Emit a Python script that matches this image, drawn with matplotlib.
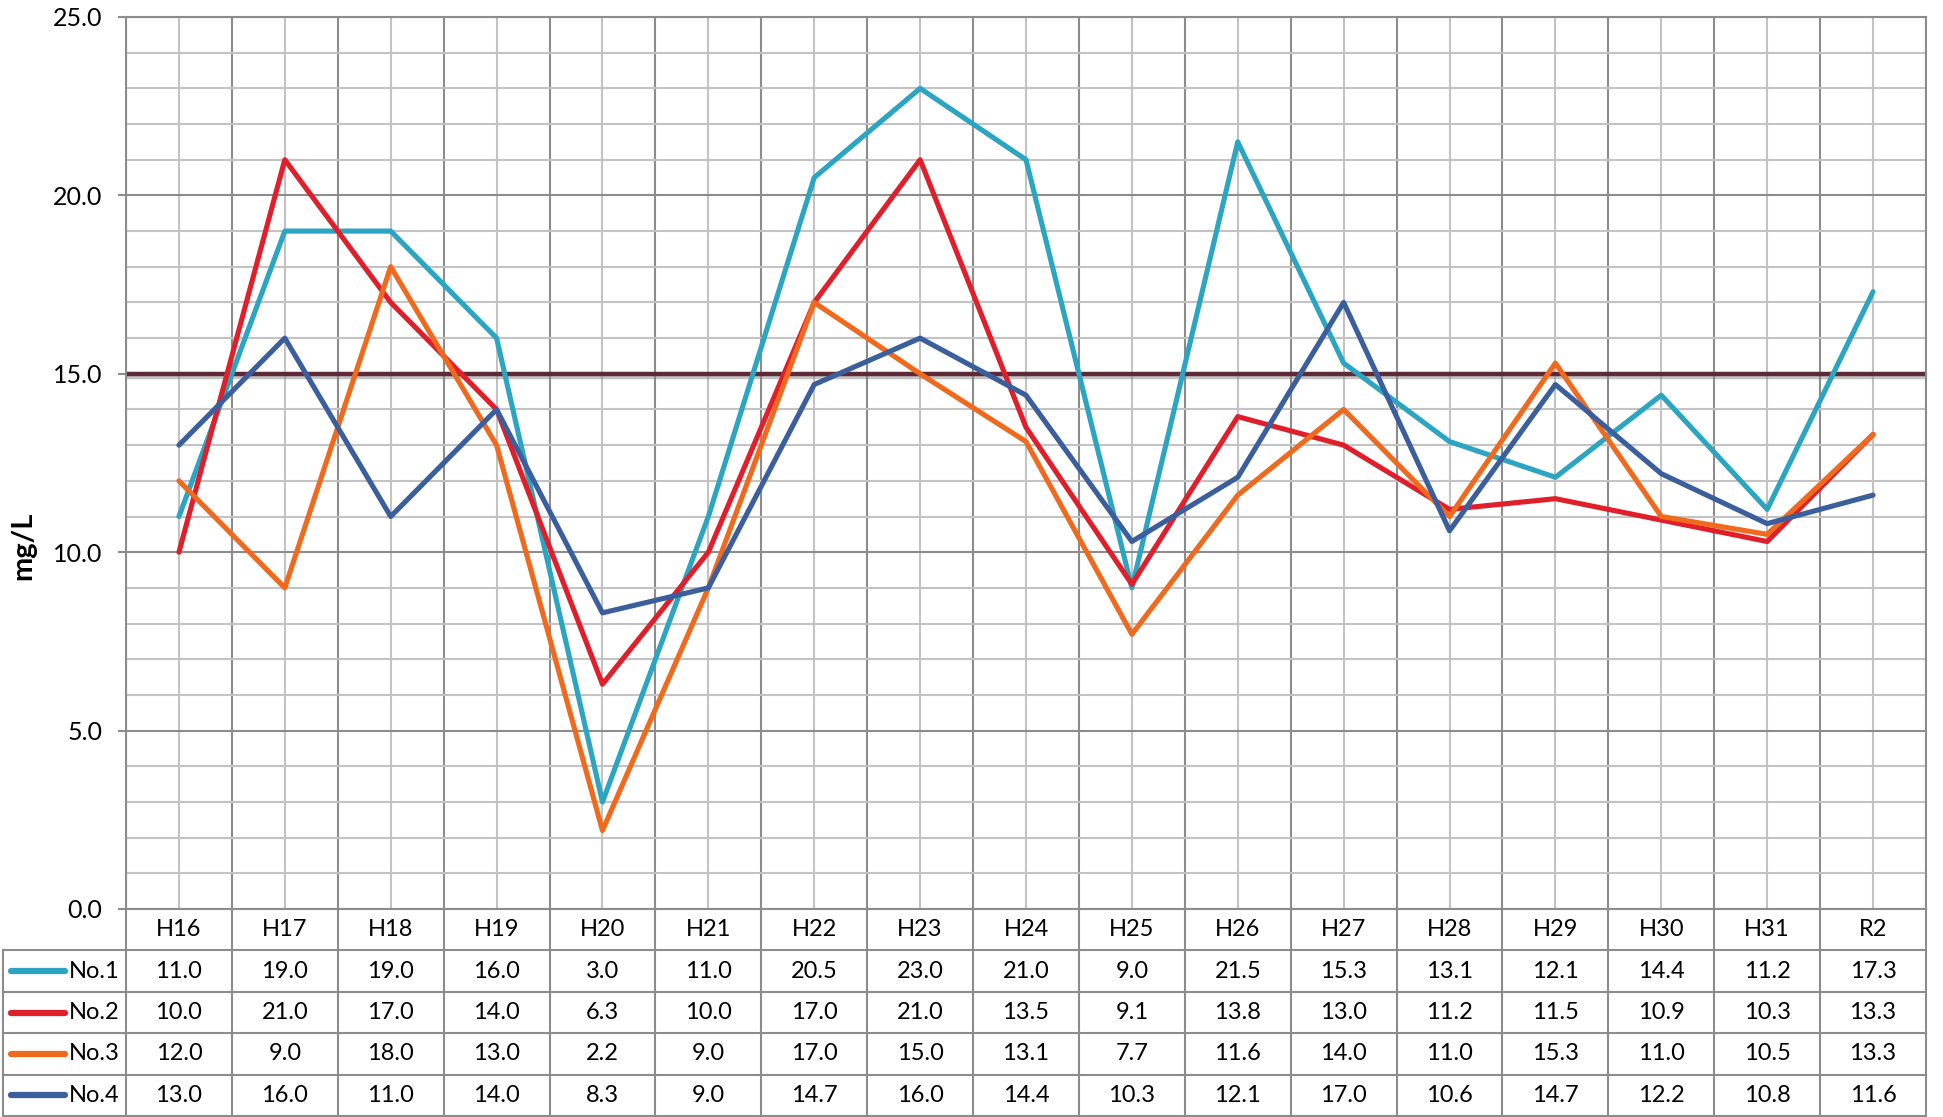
import numpy as np
import matplotlib.pyplot as plt
import matplotlib.patheffects as pe
from matplotlib.ticker import MultipleLocator, FixedLocator

plt.rcParams['font.family'] = ['Lato', 'DejaVu Sans']

# data
years = ['H16', 'H17', 'H18', 'H19', 'H20', 'H21', 'H22', 'H23', 'H24',
         'H25', 'H26', 'H27', 'H28', 'H29', 'H30', 'H31', 'R2']
no1 = [11.0, 19.0, 19.0, 16.0, 3.0, 11.0, 20.5, 23.0, 21.0, 9.0, 21.5, 15.3, 13.1, 12.1, 14.4, 11.2, 17.3]
no2 = [10.0, 21.0, 17.0, 14.0, 6.3, 10.0, 17.0, 21.0, 13.5, 9.1, 13.8, 13.0, 11.2, 11.5, 10.9, 10.3, 13.3]
no3 = [12.0, 9.0, 18.0, 13.0, 2.2, 9.0, 17.0, 15.0, 13.1, 7.7, 11.6, 14.0, 11.0, 15.3, 11.0, 10.5, 13.3]
no4 = [13.0, 16.0, 11.0, 14.0, 8.3, 9.0, 14.7, 16.0, 14.4, 10.3, 12.1, 17.0, 10.6, 14.7, 12.2, 10.8, 11.6]
series_names = ['No.1', 'No.2', 'No.3', 'No.4']
series = [no1, no2, no3, no4]
colors = ['#2ba5c1', '#e01f2b', '#f0691c', '#3b5f9c']
limit_value = 15.0

W, H = 1943, 1117
fig = plt.figure(figsize=(W / 100, H / 100), dpi=100)
fig.patch.set_facecolor('white')

# plot area in pixels
px_left, px_right, px_top, px_bot = 126, 1926, 17, 909
tbl_left, tbl_bot = 3, 1116
ax = fig.add_axes([px_left / W, (H - px_bot) / H, (px_right - px_left) / W, (px_bot - px_top) / H])

n = len(years)
x = np.arange(n)
ax.set_xlim(-0.5, n - 0.5)
ax.set_ylim(0, 25)

major_col = '#8c8c8c'
minor_col = '#c3c3c3'
ax.xaxis.set_major_locator(FixedLocator(np.arange(n + 1) - 0.5))
ax.xaxis.set_minor_locator(FixedLocator(x))
ax.yaxis.set_major_locator(MultipleLocator(5))
ax.yaxis.set_minor_locator(MultipleLocator(1))
ax.grid(which='minor', color=minor_col, lw=1.5, zorder=0)
ax.grid(which='major', color=major_col, lw=1.5, zorder=0)
ax.set_axisbelow(True)
for s in ax.spines.values():
    s.set_color(major_col)
    s.set_linewidth(1.5)
ax.tick_params(axis='x', which='both', length=0, labelbottom=False)
ax.tick_params(axis='y', which='major', length=6, width=1.5, color=major_col, pad=11, labelsize=18)
ax.tick_params(axis='y', which='minor', length=0)
ax.yaxis.set_major_formatter(lambda v, p: f'{v:.1f}')
# y title sits lower than the axes centre, as in the original
fig.text(23 / W, 1 - 546 / H, 'mg/L', rotation=90, ha='center', va='center',
         fontsize=21, fontweight='bold')

# reference line
ax.axhline(limit_value, color='#5e2a38', lw=3.2, zorder=2,
           path_effects=[pe.SimpleLineShadow(offset=(1, -2.5), shadow_color='#888888', alpha=0.5), pe.Normal()])

for vals, col in zip(series, colors):
    ax.plot(x, vals, color=col, lw=3.7, solid_joinstyle='round', solid_capstyle='round', zorder=3)

# data table below
cw = (px_right - px_left) / n
x_min = -0.5 - (px_left - tbl_left) / cw
tx = fig.add_axes([tbl_left / W, (H - tbl_bot) / H, (px_right - tbl_left) / W, (tbl_bot - px_bot) / H])
tx.set_xlim(x_min, n - 0.5)
tx.set_ylim(5, 0)
tx.axis('off')

for r in range(1, 6):
    tx.plot([x_min, n - 0.5], [r, r], color=major_col, lw=1.5, clip_on=False)
for k in range(n + 1):
    tx.plot([k - 0.5, k - 0.5], [0, 5], color=major_col, lw=1.5, clip_on=False)
tx.plot([x_min, x_min], [1, 5], color=major_col, lw=1.5, clip_on=False)

for i, yr in enumerate(years):
    tx.text(i, 0.5, yr, ha='center', va='center', fontsize=17)
px = 1 / cw
for r, (name, vals, col) in enumerate(zip(series_names, series, colors), start=1):
    tx.plot([x_min + 8 * px, x_min + 62 * px], [r + 0.5, r + 0.5], color=col, lw=4.5,
            solid_capstyle='round')
    tx.text(x_min + 66 * px, r + 0.5, name, ha='left', va='center', fontsize=17)
    for i, v in enumerate(vals):
        tx.text(i, r + 0.5, f'{v:.1f}', ha='center', va='center', fontsize=17)

fig.savefig('out.png', dpi=100, facecolor='white')
